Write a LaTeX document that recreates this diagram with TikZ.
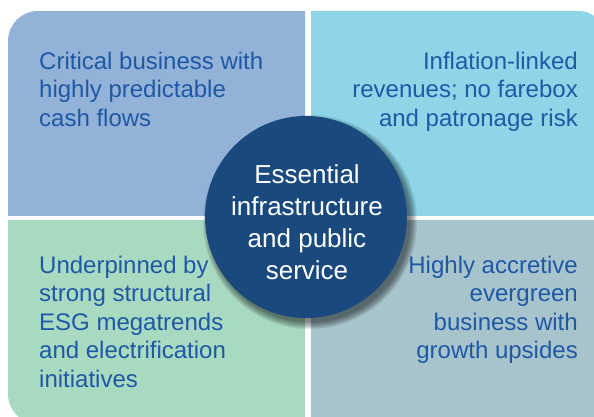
\documentclass[tikz,border=0pt]{standalone}
\usepackage{fontspec}
\setmainfont{Liberation Sans}
\definecolor{qone}{HTML}{93B2D8}
\definecolor{qtwo}{HTML}{8DD5E7}
\definecolor{qthree}{HTML}{A8D9C1}
\definecolor{qfour}{HTML}{A7C4CC}
\definecolor{hub}{HTML}{1A4A7D}
\definecolor{txt}{HTML}{1F58A5}
\tikzset{
  qtext/.style={inner sep=0pt, text=txt, font=\fontsize{24}{28.5}\selectfont},
  hubtext/.style={inner sep=0pt, text=white, font=\fontsize{26}{32}\selectfont},
}
\begin{document}
\begin{tikzpicture}[x=1pt,y=-1pt]
\useasboundingbox (0,0) rectangle (594,416);
\clip (0,0) rectangle (594,416);
\fill[white] (0,0) rectangle (594,416);
% quadrants
\begin{scope}
  \clip (8,11) rectangle (305,215);
  \fill[qone, rounded corners=30pt] (8,11) rectangle (400,300);
\end{scope}
\begin{scope}
  \clip (311,11) rectangle (608,215);
  \fill[qtwo, rounded corners=30pt] (200,11) rectangle (608,300);
\end{scope}
\begin{scope}
  \clip (8,220) rectangle (305,424);
  \fill[qthree, rounded corners=30pt] (8,100) rectangle (400,424);
\end{scope}
\begin{scope}
  \clip (311,220) rectangle (608,424);
  \fill[qfour, rounded corners=30pt] (200,100) rectangle (608,424);
\end{scope}
% shadow of hub
\foreach \k in {0,...,9}{
  \fill[black, opacity=0.06] (310,222) circle[radius={100+0.8*\k}];
}
\node[circle, fill=hub, minimum size=202pt, inner sep=0pt] (hubc) at (306,217) {};
% texts
\node[qtext, anchor=base west] (tl) at (39,69)
  {\begin{tabular}[t]{@{}l@{}}Critical business with\\highly predictable\\cash flows\end{tabular}};
\node[qtext, anchor=base east] (tr) at (578,69)
  {\begin{tabular}[t]{@{}r@{}}Inflation-linked\\revenues; no farebox\\and patronage risk\end{tabular}};
\node[qtext, anchor=base west] (bl) at (39,273)
  {\begin{tabular}[t]{@{}l@{}}Underpinned by\\strong structural\\ESG megatrends\\and electrification\\initiatives\end{tabular}};
\node[qtext, anchor=base east] (br) at (578,273)
  {\begin{tabular}[t]{@{}r@{}}Highly accretive\\evergreen\\business with\\growth upsides\end{tabular}};
\node[hubtext, anchor=base] (ht) at (307,183)
  {\begin{tabular}[t]{@{}c@{}}Essential\\infrastructure\\and public\\service\end{tabular}};
\end{tikzpicture}
\end{document}
